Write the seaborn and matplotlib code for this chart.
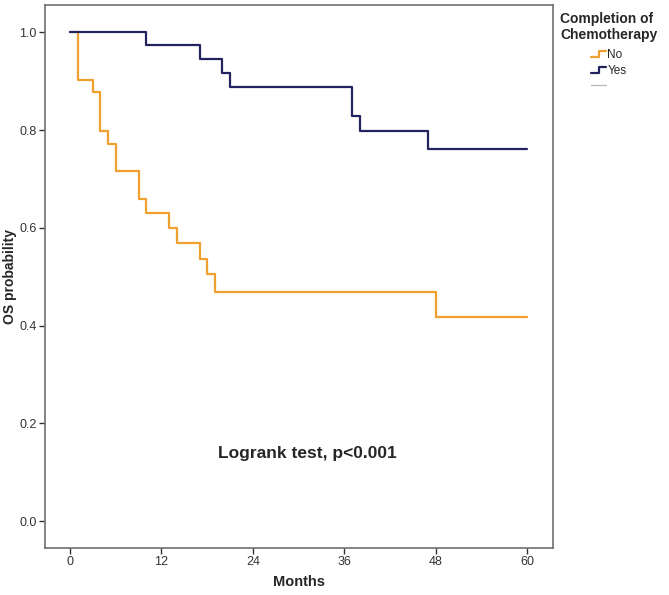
import numpy as np
import pandas as pd

import matplotlib
matplotlib.use("Agg")
import matplotlib.pyplot as plt
from matplotlib.lines import Line2D
from matplotlib.legend_handler import HandlerBase
import seaborn as sns


# Kaplan-Meier step points
no_months = [0, 1, 3, 4, 5, 6, 9, 10, 13, 14, 17, 18, 19, 48, 60]
no_surv = [1.0, 0.902, 0.877, 0.799, 0.772, 0.717, 0.659, 0.631,
           0.600, 0.568, 0.536, 0.505, 0.469, 0.417, 0.417]

yes_months = [0, 10, 17, 20, 21, 37, 38, 47, 60]
yes_surv = [1.0, 0.973, 0.945, 0.917, 0.888, 0.828, 0.798, 0.762, 0.762]

group_labels = ["No", "Yes"]
x_ticks = [0, 12, 24, 36, 48, 60]
y_ticks = [0.0, 0.2, 0.4, 0.6, 0.8, 1.0]

colors = {"No": "#EFA02E", "Yes": "#23235F"}


df = pd.concat([
    pd.DataFrame({"Months": no_months, "OS": no_surv, "Group": "No"}),
    pd.DataFrame({"Months": yes_months, "OS": yes_surv, "Group": "Yes"}),
])


sns.set_style("white")
plt.rcParams["font.family"] = ["Liberation Sans", "DejaVu Sans"]


class StepHandler(HandlerBase):
    # small step-shaped legend key like the SPSS output
    def create_artists(self, legend, orig_handle, xdescent, ydescent,
                       width, height, fontsize, trans):
        w = width
        h = height
        xs = [-xdescent, -xdescent + 0.55 * w, -xdescent + 0.55 * w, -xdescent + w]
        ys = [-ydescent + 0.15 * h, -ydescent + 0.15 * h,
              -ydescent + 0.85 * h, -ydescent + 0.85 * h]
        line = Line2D(xs, ys, color=orig_handle.get_color(),
                      linewidth=orig_handle.get_linewidth(), transform=trans)
        return [line]


fig = plt.figure(figsize=(6.69, 5.95), dpi=100)
ax = fig.add_axes([0.067, 0.079, 0.76, 0.912])

sns.lineplot(
    data=df,
    x="Months",
    y="OS",
    hue="Group",
    palette=colors,
    estimator=None,
    sort=False,
    drawstyle="steps-post",
    linewidth=1.6,
    legend=False,
    ax=ax
)

ax.set_xlim(-3.3, 63.4)
ax.set_ylim(-0.055, 1.055)
ax.set_xticks(x_ticks)
ax.set_yticks(y_ticks)
ax.set_yticklabels([f"{v:.1f}" for v in y_ticks])

ax.tick_params(
    axis="both",
    direction="out",
    length=4,
    width=1,
    color="#333333",
    labelsize=9,
    labelcolor="#333333",
    bottom=True,
    left=True,
    pad=2
)

for spine in ax.spines.values():
    spine.set_color("#707070")
    spine.set_linewidth(1.2)

ax.set_xlabel("Months", fontsize=10.5, fontweight="bold")
ax.set_ylabel("OS probability", fontsize=10, fontweight="bold")
ax.xaxis.set_label_coords(0.5, -0.05)
ax.yaxis.set_label_coords(-0.054, 0.5)

ax.text(
    31.2, 0.139,
    "Logrank test, p<0.001",
    fontsize=12.5,
    fontweight="bold",
    ha="center",
    va="center"
)

h_no = Line2D([], [], color=colors["No"], linewidth=1.6)
h_yes = Line2D([], [], color=colors["Yes"], linewidth=1.6)
h_cens = Line2D([], [], color="#BBBBBB", linewidth=1)

leg = ax.legend(
    [h_no, h_yes, h_cens],
    group_labels + [""],
    handler_map={h_no: StepHandler(), h_yes: StepHandler()},
    title="Completion of\nChemotherapy",
    title_fontproperties={"weight": "bold", "size": 10},
    fontsize=8.5,
    loc="upper left",
    bbox_to_anchor=(0.995, 1.005),
    frameon=False,
    handlelength=1.3,
    handletextpad=0.1,
    labelspacing=0.3,
    borderpad=0.3
)
leg._legend_box.align = "center"
leg._legend_box.sep = 5

fig.savefig("out.png", dpi=100)
